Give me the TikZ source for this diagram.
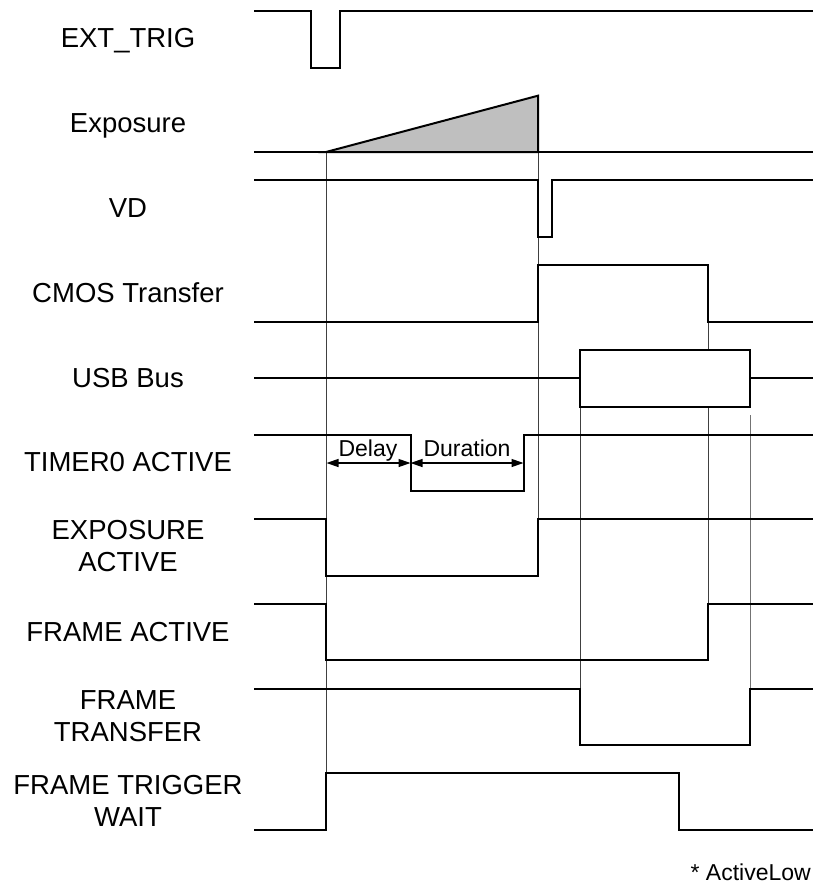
\documentclass[tikz,border=0pt]{standalone}
\usepackage{fontspec}
\setmainfont{Liberation Sans}
\usetikzlibrary{arrows.meta}
\begin{document}
\begin{tikzpicture}[x=1pt,y=-1pt,
  sig/.style={line width=2pt, line join=miter},
  guide/.style={line width=1pt, draw=black!75},
  lbl/.style={font=\fontsize{27.5}{32.5}\selectfont, align=center, inner sep=0pt},
  onel/.style={lbl, text depth=0pt},
  small/.style={font=\fontsize{23}{27}\selectfont, inner sep=0pt},
  dim/.style={line width=1.3pt, {Triangle[length=12pt,width=8pt]}-{Triangle[length=12pt,width=8pt]}}
]
\useasboundingbox (0,0) rectangle (813,884);

% labels
\node[onel] (l0) at (128,38) {EXT\_TRIG};
\node[onel] (l1) at (128,122.7) {Exposure};
\node[onel] (l2) at (128,208) {VD};
\node[onel] (l3) at (128,292.8) {CMOS Transfer};
\node[onel] (l4) at (128,377.5) {USB Bus};
\node[onel] (l5) at (128,462) {TIMER0 ACTIVE};
\node[lbl] (l6) at (128,546) {EXPOSURE\\ACTIVE};
\node[onel] (l7) at (128,631.5) {FRAME ACTIVE};
\node[lbl] (l8) at (128,716) {FRAME\\TRANSFER};
\node[lbl] (l9) at (128,801) {FRAME TRIGGER\\WAIT};

% guide lines
\draw[guide] (326,152) -- (326,773);
\draw[guide] (538,152) -- (538,519);
\draw[guide] (580,407) -- (580,689);
\draw[guide] (708,321) -- (708,604);
\draw[guide, draw=black!55] (750,415) -- (750,689);

% exposure ramp
\filldraw[sig, fill=black!25] (326,152) -- (538,95.7) -- (538,152) -- cycle;

% signals
\draw[sig] (254,11) -- (311,11) -- (311,67.5) -- (340,67.5) -- (340,11) -- (813,11);
\draw[sig] (254,152) -- (813,152);
\draw[sig] (254,180.4) -- (538,180.4) -- (538,236.9) -- (552,236.9) -- (552,180.4) -- (813,180.4);
\draw[sig] (254,321.6) -- (538,321.6) -- (538,265.1) -- (708,265.1) -- (708,321.6) -- (813,321.6);
\draw[sig] (254,378) -- (580,378);
\draw[sig] (750,378) -- (813,378);
\draw[sig, fill=white] (580,349.8) rectangle (750,406.8);
\draw[sig] (254,434.5) -- (410.5,434.5) -- (410.5,491) -- (523.5,491) -- (523.5,434.5) -- (813,434.5);
\draw[sig] (254,519.2) -- (326,519.2) -- (326,575.7) -- (538,575.7) -- (538,519.2) -- (813,519.2);
\draw[sig] (254,603.9) -- (326,603.9) -- (326,660.4) -- (708,660.4) -- (708,603.9) -- (813,603.9);
\draw[sig] (254,688.6) -- (580,688.6) -- (580,745.1) -- (750,745.1) -- (750,688.6) -- (813,688.6);
\draw[sig] (254,829.8) -- (326,829.8) -- (326,773.3) -- (679,773.3) -- (679,829.8) -- (813,829.8);

% delay / duration
\coordinate (d0) at (326.5,463);
\coordinate (d1) at (410.5,463);
\coordinate (d2) at (523.5,463);
\draw[dim] (d0) -- (d1);
\draw[dim] (d1) -- (d2);
\node[small, anchor=base] (dl) at (368,456) {Delay};
\node[small, anchor=base] (du) at (467,456) {Duration};

\node[small, anchor=base east] (al) at (811,880) {* ActiveLow};
\end{tikzpicture}
\end{document}
